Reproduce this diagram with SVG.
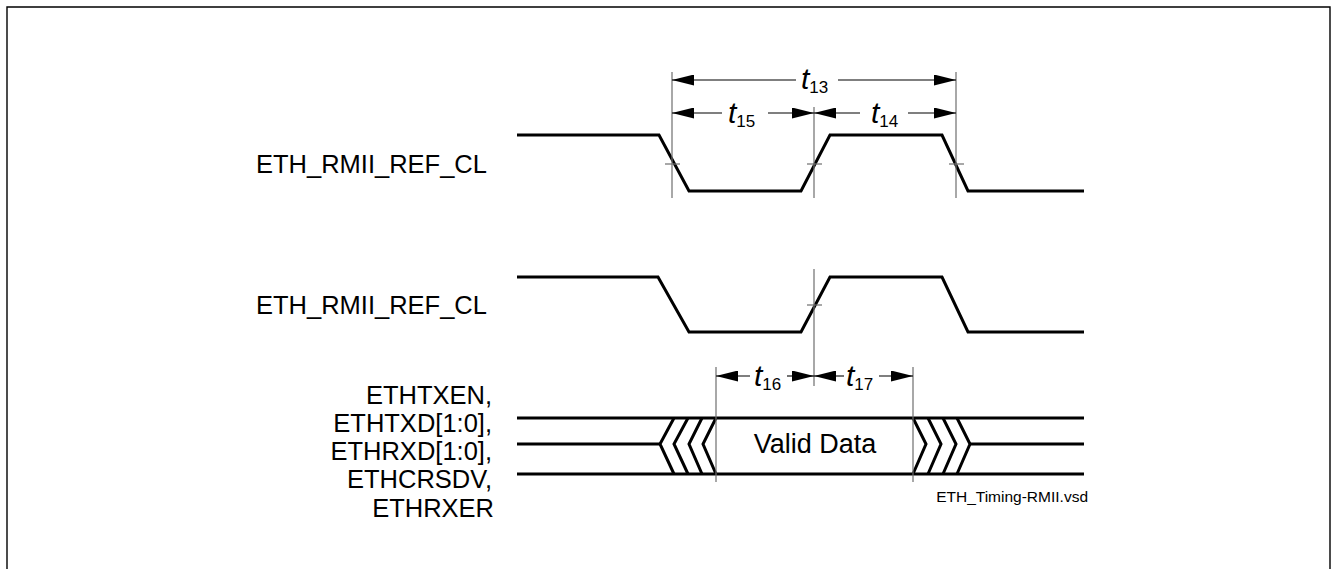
<svg xmlns="http://www.w3.org/2000/svg" width="1332" height="569" viewBox="0 0 1332 569">
<style>
.sig{fill:none;stroke:#000;stroke-width:3;stroke-linejoin:miter}
.ref{stroke:#6e6e6e;stroke-width:1.2}
.dim{stroke:#000;stroke-width:1.1}
.lbl{font-family:"Liberation Sans",Arial,sans-serif;font-size:25.5px;fill:#000}
.t{font-family:"Liberation Sans",Arial,sans-serif;font-size:30px;font-style:italic;fill:#000}
.sub{font-family:"Liberation Sans",Arial,sans-serif;font-size:17px;fill:#000}
</style>
<defs>
<marker id="ah" markerUnits="userSpaceOnUse" markerWidth="22" markerHeight="11" refX="22" refY="5.5" orient="auto-start-reverse">
<path d="M0,0 L22,5.5 L0,11 z" fill="#000"/>
</marker>
</defs>
<rect x="0" y="0" width="1332" height="569" fill="#fff"/>
<path d="M7,569 V7 H1330 V569" fill="none" stroke="#000" stroke-width="1.4"/>

<g id="label-clk1"><text class="lbl" x="256" y="173">ETH_RMII_REF_CL</text></g>
<g id="label-clk2"><text class="lbl" x="256" y="314">ETH_RMII_REF_CL</text></g>
<g id="label-bus">
<text class="lbl" text-anchor="end" x="492" y="403.5">ETHTXEN,</text>
<text class="lbl" text-anchor="end" x="492" y="431.75">ETHTXD[1:0],</text>
<text class="lbl" text-anchor="end" x="492" y="460">ETHRXD[1:0],</text>
<text class="lbl" text-anchor="end" x="492" y="488.25">ETHCRSDV,</text>
<text class="lbl" text-anchor="end" x="494" y="516.5">ETHRXER</text>
</g>

<g id="clk1"><path class="sig" d="M517,135 H659 L689,191 H801 L830,135 H942 L968,191 H1084"/></g>
<g id="clk2"><path class="sig" d="M517,277 H658 L689,332 H801 L830,277 H942 L968,332 H1084"/></g>

<g id="bus">
<path class="sig" d="M517,418 H1084 M517,474 H1084 M517,444 H660 M970,444 H1084"/>
<path class="sig" d="M674,418 L660,444 L674,474 M688,418 L674,444 L688,474 M702,418 L689,444 L702,474 M716,418 L703,444 L716,474"/>
<path class="sig" d="M913,418 L926,444 L913,474 M928,418 L941,444 L928,474 M943,418 L956,444 L943,474 M957,418 L970,444 L957,474"/>
<text class="lbl" x="815" y="453" text-anchor="middle" style="font-size:27px">Valid Data</text>
</g>

<g id="connectors">
<line class="ref" x1="672" y1="72" x2="672" y2="198"/>
<line class="ref" x1="814" y1="107" x2="814" y2="198"/>
<line class="ref" x1="956" y1="72" x2="956" y2="198"/>
<line class="ref" x1="665" y1="164" x2="680" y2="164"/>
<line class="ref" x1="807" y1="164" x2="822" y2="164"/>
<line class="ref" x1="949" y1="164" x2="964" y2="164"/>
<line class="ref" x1="814" y1="269" x2="814" y2="386"/>
<line class="ref" x1="807" y1="305" x2="822" y2="305"/>
<line class="ref" x1="716" y1="367" x2="716" y2="482"/>
<line class="ref" x1="913" y1="367" x2="913" y2="482"/>

<line class="dim" x1="672" y1="80" x2="796" y2="80" marker-start="url(#ah)"/>
<line class="dim" x1="838" y1="80" x2="956" y2="80" marker-end="url(#ah)"/>
<line class="dim" x1="672" y1="113" x2="722" y2="113" marker-start="url(#ah)"/>
<line class="dim" x1="768" y1="113" x2="814" y2="113" marker-end="url(#ah)"/>
<line class="dim" x1="814" y1="113" x2="860" y2="113" marker-start="url(#ah)"/>
<line class="dim" x1="908" y1="113" x2="956" y2="113" marker-end="url(#ah)"/>
<line class="dim" x1="716" y1="376" x2="750" y2="376" marker-start="url(#ah)"/>
<line class="dim" x1="787" y1="376" x2="814" y2="376" marker-end="url(#ah)"/>
<line class="dim" x1="814" y1="376" x2="844" y2="376" marker-start="url(#ah)"/>
<line class="dim" x1="879" y1="376" x2="913" y2="376" marker-end="url(#ah)"/>

<text x="801" y="89"><tspan class="t">t</tspan><tspan class="sub" dy="4">13</tspan></text>
<text x="728" y="123"><tspan class="t">t</tspan><tspan class="sub" dy="4">15</tspan></text>
<text x="871" y="123"><tspan class="t">t</tspan><tspan class="sub" dy="4">14</tspan></text>
<text x="754" y="386"><tspan class="t">t</tspan><tspan class="sub" dy="4">16</tspan></text>
<text x="846" y="386"><tspan class="t">t</tspan><tspan class="sub" dy="4">17</tspan></text>
</g>

<g id="filename"><text x="1088" y="502" text-anchor="end" style="font-family:'Liberation Sans',Arial,sans-serif;font-size:15.5px;fill:#000">ETH_Timing-RMII.vsd</text></g>
</svg>
